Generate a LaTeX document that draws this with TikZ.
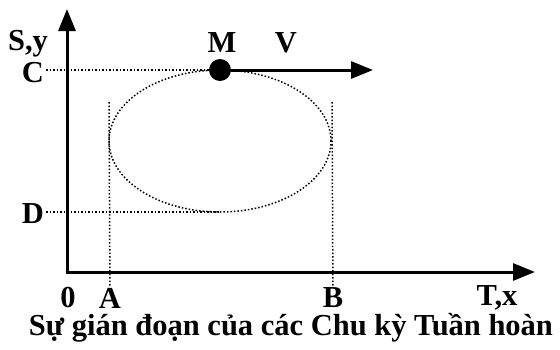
\documentclass[tikz,border=0pt]{standalone}
\usepackage{fontspec}
\setmainfont{Liberation Serif}
\usetikzlibrary{arrows.meta, positioning}

\begin{document}
\begin{tikzpicture}[x=1pt, y=-1pt,
    font=\fontsize{30.5}{34}\selectfont\bfseries,
    every node/.style={inner sep=2pt},
    axis/.style={line width=3pt},
    guide/.style={dotted, line width=1.5pt},
    tip/.tip={Triangle[length=22pt, width=17pt]}]
    \useasboundingbox (0,0) rectangle (560,349);

    % Axes
    \coordinate (O) at (67,272);
    \coordinate (Ytip) at (67,9);
    \coordinate (Xtip) at (535,272);
    \draw[axis, tip-tip] (Ytip) -- (O) -- (Xtip);
    \node (Sy) at (28,44) {S,y};
    \node (Tx) at (497,298) {T,x};
    \node (zero) at (68,298) {0};

    % Trajectory
    \draw[guide] (220,141) ellipse (111pt and 71pt);
    \node (A) at (110,298) {A};
    \node (B) at (333,298) {B};
    \coordinate (Atop) at (109,102);
    \coordinate (Btop) at (332,102);
    \draw[guide] (Atop) -- (A);
    \draw[guide] (Btop) -- (B);

    % Point M and velocity
    \node[circle, fill, minimum size=22pt, inner sep=0pt] (M) at (220,70) {};
    \node (Mlbl) at (222,43) {M};
    \node (V) at (286,43) {V};
    \coordinate (Vtip) at (373,70);
    \draw[axis, -tip] (M) -- (Vtip);

    % Levels
    \node (C) at (33,73) {C};
    \node (D) at (33,214) {D};
    \coordinate (Dend) at (220,212);
    \draw[guide] (C.east |- M) -- (M);
    \draw[guide] (D.east |- Dend) -- (Dend);

    \node (cap) at (291,328) {Sự gián đoạn của các Chu kỳ Tuần hoàn};
\end{tikzpicture}
\end{document}
